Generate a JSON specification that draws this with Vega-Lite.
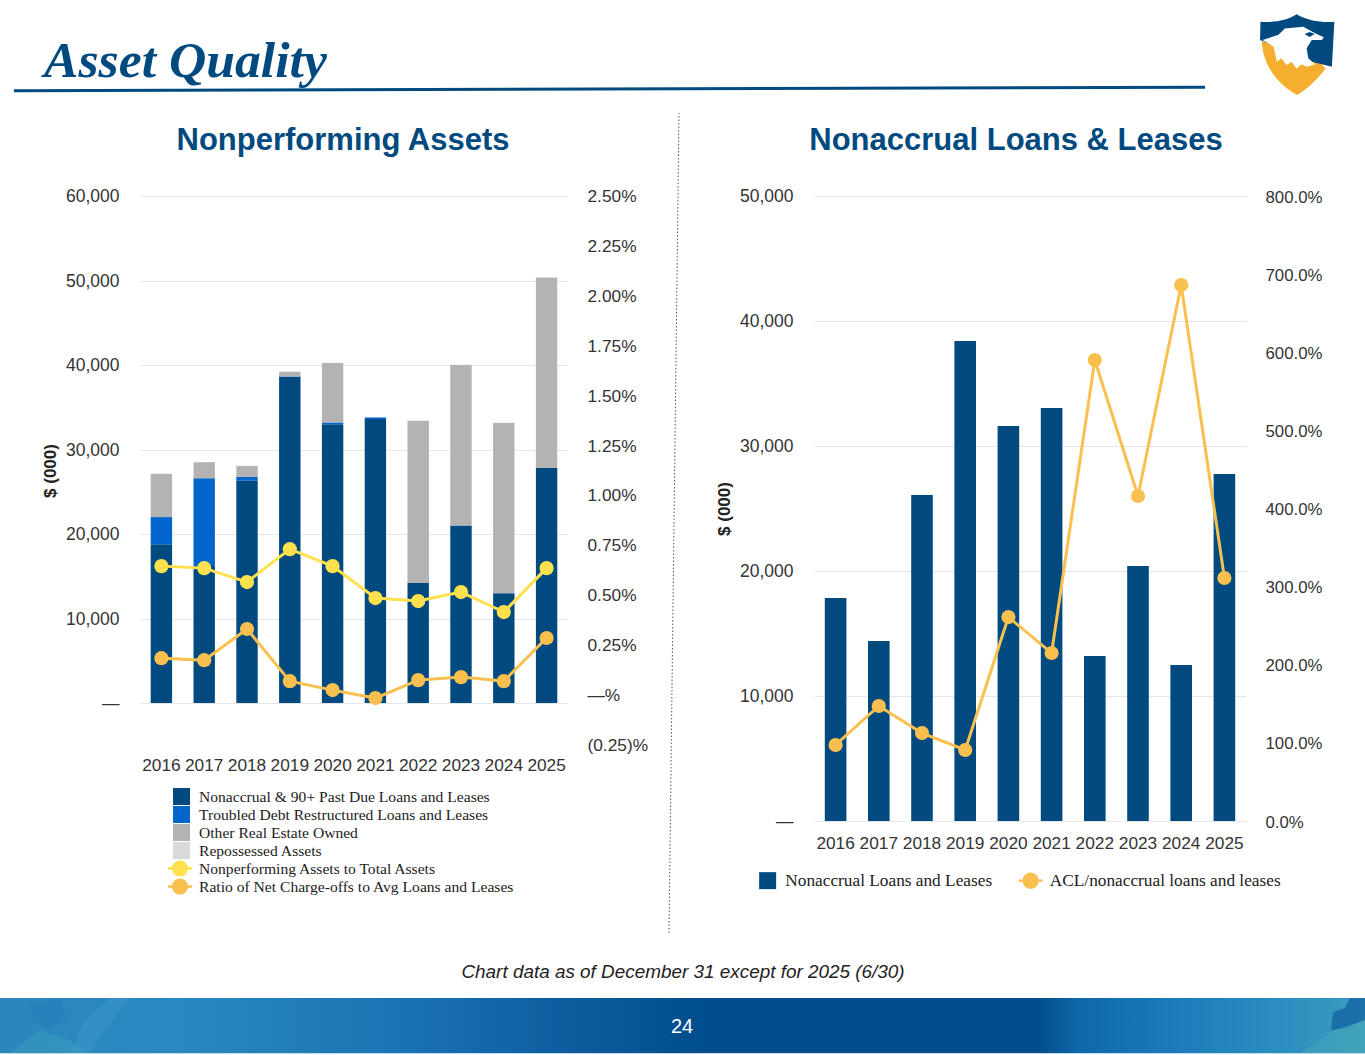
{"$schema":"https://vega.github.io/schema/vega-lite/v6.json","padding":0,"background":"white","bounds":"flush","spacing":0,"resolve":{"scale":{"color":"independent","fill":"independent","stroke":"independent"},"legend":{"color":"independent","fill":"independent"}},"config":{"view":{"stroke":null},"font":"Liberation Sans"},
"datasets":{
"bars1":[
{"year":"2016","category":"Nonaccrual & 90+ Past Due Loans and Leases","rank":1,"value":18800},{"year":"2016","category":"Troubled Debt Restructured Loans and Leases","rank":2,"value":3200},{"year":"2016","category":"Other Real Estate Owned","rank":3,"value":5100},{"year":"2016","category":"Repossessed Assets","rank":4,"value":50},
{"year":"2017","category":"Nonaccrual & 90+ Past Due Loans and Leases","rank":1,"value":16200},{"year":"2017","category":"Troubled Debt Restructured Loans and Leases","rank":2,"value":10400},{"year":"2017","category":"Other Real Estate Owned","rank":3,"value":1900},{"year":"2017","category":"Repossessed Assets","rank":4,"value":30},
{"year":"2018","category":"Nonaccrual & 90+ Past Due Loans and Leases","rank":1,"value":26300},{"year":"2018","category":"Troubled Debt Restructured Loans and Leases","rank":2,"value":450},{"year":"2018","category":"Other Real Estate Owned","rank":3,"value":1300},{"year":"2018","category":"Repossessed Assets","rank":4,"value":30},
{"year":"2019","category":"Nonaccrual & 90+ Past Due Loans and Leases","rank":1,"value":38600},{"year":"2019","category":"Troubled Debt Restructured Loans and Leases","rank":2,"value":50},{"year":"2019","category":"Other Real Estate Owned","rank":3,"value":550},{"year":"2019","category":"Repossessed Assets","rank":4,"value":20},
{"year":"2020","category":"Nonaccrual & 90+ Past Due Loans and Leases","rank":1,"value":33000},{"year":"2020","category":"Troubled Debt Restructured Loans and Leases","rank":2,"value":200},{"year":"2020","category":"Other Real Estate Owned","rank":3,"value":7050},{"year":"2020","category":"Repossessed Assets","rank":4,"value":20},
{"year":"2021","category":"Nonaccrual & 90+ Past Due Loans and Leases","rank":1,"value":33600},{"year":"2021","category":"Troubled Debt Restructured Loans and Leases","rank":2,"value":200},{"year":"2021","category":"Other Real Estate Owned","rank":3,"value":0},{"year":"2021","category":"Repossessed Assets","rank":4,"value":20},
{"year":"2022","category":"Nonaccrual & 90+ Past Due Loans and Leases","rank":1,"value":14200},{"year":"2022","category":"Troubled Debt Restructured Loans and Leases","rank":2,"value":0},{"year":"2022","category":"Other Real Estate Owned","rank":3,"value":19200},{"year":"2022","category":"Repossessed Assets","rank":4,"value":20},
{"year":"2023","category":"Nonaccrual & 90+ Past Due Loans and Leases","rank":1,"value":21000},{"year":"2023","category":"Troubled Debt Restructured Loans and Leases","rank":2,"value":0},{"year":"2023","category":"Other Real Estate Owned","rank":3,"value":19000},{"year":"2023","category":"Repossessed Assets","rank":4,"value":30},
{"year":"2024","category":"Nonaccrual & 90+ Past Due Loans and Leases","rank":1,"value":13000},{"year":"2024","category":"Troubled Debt Restructured Loans and Leases","rank":2,"value":0},{"year":"2024","category":"Other Real Estate Owned","rank":3,"value":20150},{"year":"2024","category":"Repossessed Assets","rank":4,"value":30},
{"year":"2025","category":"Nonaccrual & 90+ Past Due Loans and Leases","rank":1,"value":27800},{"year":"2025","category":"Troubled Debt Restructured Loans and Leases","rank":2,"value":0},{"year":"2025","category":"Other Real Estate Owned","rank":3,"value":22500},{"year":"2025","category":"Repossessed Assets","rank":4,"value":100}],
"lines1":[
{"year":"2016","series":"Nonperforming Assets to Total Assets","pct":0.646},{"year":"2017","series":"Nonperforming Assets to Total Assets","pct":0.636},{"year":"2018","series":"Nonperforming Assets to Total Assets","pct":0.566},{"year":"2019","series":"Nonperforming Assets to Total Assets","pct":0.731},{"year":"2020","series":"Nonperforming Assets to Total Assets","pct":0.646},{"year":"2021","series":"Nonperforming Assets to Total Assets","pct":0.486},{"year":"2022","series":"Nonperforming Assets to Total Assets","pct":0.471},{"year":"2023","series":"Nonperforming Assets to Total Assets","pct":0.516},{"year":"2024","series":"Nonperforming Assets to Total Assets","pct":0.416},{"year":"2025","series":"Nonperforming Assets to Total Assets","pct":0.636},
{"year":"2016","series":"Ratio of Net Charge-offs to Avg Loans and Leases","pct":0.185},{"year":"2017","series":"Ratio of Net Charge-offs to Avg Loans and Leases","pct":0.175},{"year":"2018","series":"Ratio of Net Charge-offs to Avg Loans and Leases","pct":0.331},{"year":"2019","series":"Ratio of Net Charge-offs to Avg Loans and Leases","pct":0.07},{"year":"2020","series":"Ratio of Net Charge-offs to Avg Loans and Leases","pct":0.025},{"year":"2021","series":"Ratio of Net Charge-offs to Avg Loans and Leases","pct":-0.015},{"year":"2022","series":"Ratio of Net Charge-offs to Avg Loans and Leases","pct":0.075},{"year":"2023","series":"Ratio of Net Charge-offs to Avg Loans and Leases","pct":0.09},{"year":"2024","series":"Ratio of Net Charge-offs to Avg Loans and Leases","pct":0.07},{"year":"2025","series":"Ratio of Net Charge-offs to Avg Loans and Leases","pct":0.286}],
"right":[
{"year":"2016","category":"Nonaccrual Loans and Leases","series":"ACL/nonaccrual loans and leases","value":17840,"pct":97.3},{"year":"2017","category":"Nonaccrual Loans and Leases","series":"ACL/nonaccrual loans and leases","value":14400,"pct":147.2},{"year":"2018","category":"Nonaccrual Loans and Leases","series":"ACL/nonaccrual loans and leases","value":26080,"pct":112.6},{"year":"2019","category":"Nonaccrual Loans and Leases","series":"ACL/nonaccrual loans and leases","value":38400,"pct":90.9},{"year":"2020","category":"Nonaccrual Loans and Leases","series":"ACL/nonaccrual loans and leases","value":31600,"pct":261},{"year":"2021","category":"Nonaccrual Loans and Leases","series":"ACL/nonaccrual loans and leases","value":33040,"pct":215},{"year":"2022","category":"Nonaccrual Loans and Leases","series":"ACL/nonaccrual loans and leases","value":13200,"pct":590},{"year":"2023","category":"Nonaccrual Loans and Leases","series":"ACL/nonaccrual loans and leases","value":20400,"pct":416},{"year":"2024","category":"Nonaccrual Loans and Leases","series":"ACL/nonaccrual loans and leases","value":12480,"pct":686},{"year":"2025","category":"Nonaccrual Loans and Leases","series":"ACL/nonaccrual loans and leases","value":27760,"pct":311}]
},
"vconcat":[
{"width":1365,"height":196,
"encoding":{"x":{"field":"x","type":"quantitative","scale":{"domain":[0,1365]},"axis":null},"y":{"field":"y","type":"quantitative","scale":{"domain":[196,0]},"axis":null}},
"layer":[
{"data":{"values":[{"x":14,"y":90.8},{"x":1205,"y":87.3}]},"mark":{"type":"line","color":"#004A80","strokeWidth":3}},
{"data":{"values":[{"x":44,"y":77,"t":"Asset Quality"}]},"mark":{"type":"text","align":"left","baseline":"alphabetic","font":"Liberation Serif","fontWeight":"bold","fontStyle":"italic","fontSize":51.7,"color":"#004A80"},"encoding":{"text":{"field":"t"}}},
{"data":{"values":[{"x":679,"y":113},{"x":669,"y":933}]},"mark":{"type":"line","color":"#555555","strokeWidth":1,"strokeDash":[1.5,2]}},
{"data":{"values":[{"x":1297,"y":55}]},"mark":{"type":"point","filled":true,"opacity":1,"size":7056,"color":"#F5AE2E","shape":"M-.84,-.32C-.82,.1 -.6,.62 0,.95C.25,.82 .55,.5 .68,.32L.2,-.2Z"}},
{"data":{"values":[{"x":1297,"y":55}]},"mark":{"type":"point","filled":true,"opacity":1,"size":7056,"color":"#004A80","shape":"M-.87,-.79C-.55,-.77 -.25,-.82 -.01,-.97C.25,-.82 .55,-.77 .89,-.79L.83,.28L.35,.16L-.88,-.36Z"}},
{"data":{"values":[{"x":1297,"y":55}]},"mark":{"type":"point","filled":true,"opacity":1,"size":7056,"color":"#FFFFFF","shape":"M-.82,-.36L-.44,-.48L-.29,-.63L.15,-.67L.43,-.52L.64,-.42L.59,-.36L.35,-.36L.23,-.16L.27,.08L.43,.22L.23,.28L.11,.22L-.01,.32L-.13,.16L-.25,.24L-.37,.08L-.48,.16L-.56,-.2Z"}},
{"data":{"values":[{"x":1297,"y":55}]},"mark":{"type":"point","filled":true,"opacity":1,"size":7056,"color":"#004A80","shape":"M.18,-.5L.3,-.55L.42,-.5L.3,-.43Z"}},
{"data":{"values":[{"x":683,"y":972,"t":"Chart data as of December 31 except for 2025 (6/30)"}]},"mark":{"type":"text","align":"center","baseline":"middle","font":"Liberation Sans","fontStyle":"italic","fontSize":18.9,"color":"#222222"},"encoding":{"text":{"field":"t"}}},
{"data":{"values":[{"x":0,"x2":1365,"y":998,"y2":1053}]},"mark":{"type":"rect","color":{"gradient":"linear","x1":0,"x2":1,"y1":0,"y2":0,"stops":[{"offset":0,"color":"#2C86BC"},{"offset":0.13,"color":"#2A88C0"},{"offset":0.3,"color":"#1A72B2"},{"offset":0.42,"color":"#0C5C9E"},{"offset":0.52,"color":"#004C8C"},{"offset":0.76,"color":"#004C8C"},{"offset":0.79,"color":"#0F68A8"},{"offset":0.85,"color":"#1A78B8"},{"offset":0.93,"color":"#2A8CC0"},{"offset":1,"color":"#3A9CBE"}]}},"encoding":{"x2":{"field":"x2"},"y2":{"field":"y2"}}},
{"data":{"values":[{"x":1348,"y":1020}]},"mark":{"type":"point","filled":true,"opacity":0.7,"size":1936,"color":"#0E5E9E","shape":"M-.77,.45L-.68,-.36L-.14,-.55L.09,-1L.77,-1L.77,0L-.14,.36Z"}},
{"data":{"values":[{"x":1340,"y":1040}]},"mark":{"type":"point","filled":true,"opacity":0.35,"size":2500,"color":"#4FB0B8","shape":"M-1.6,.52L-.8,0L-.2,-.4L1,-.8L1,.52Z"}},
{"data":{"values":[{"x":100,"y":1025}]},"mark":{"type":"point","filled":true,"opacity":0.25,"size":3136,"color":"#4FA6D2","shape":"M-1.07,1L-.54,-.18L.36,-.96L1.07,-.96L.18,.18L-.36,1Z"}},
{"data":{"values":[{"x":50,"y":1040}]},"mark":{"type":"point","filled":true,"opacity":0.3,"size":3600,"color":"#45ABC0","shape":"M-1.33,.43L-.33,-.33L.67,0L1.17,.43Z"}},
{"data":{"values":[{"x":45,"y":1012}]},"mark":{"type":"point","filled":true,"opacity":0.25,"size":1600,"color":"#1B6FAE","shape":"M-.75,-.35L.75,-.6L1.15,.4L0,.8L-.65,.4Z"}},
{"data":{"values":[{"x":0,"x2":1365,"y":1053,"y2":1054}]},"mark":{"type":"rect","color":"#C8DCE8"},"encoding":{"x2":{"field":"x2"},"y2":{"field":"y2"}}},
{"data":{"values":[{"x":682,"y":1027,"t":"24"}]},"mark":{"type":"text","align":"center","baseline":"middle","font":"Liberation Sans","fontSize":20,"color":"#FFFFFF"},"encoding":{"text":{"field":"t"}}}
]},
{"bounds":"flush","spacing":0,"resolve":{"scale":{"color":"independent","fill":"independent","stroke":"independent"},"legend":{"color":"independent","fill":"independent"}},"hconcat":[
{"width":140,"height":625,"data":{"values":[{"a":""}]},"mark":{"type":"text"},"encoding":{"text":{"field":"a"}}},
{"width":428,"height":549,
"title":{"text":"Nonperforming Assets","font":"Liberation Sans","fontWeight":"bold","fontSize":31,"color":"#004A80","anchor":"middle","dx":-11,"offset":31},
"layer":[
{"data":{"name":"bars1"},"mark":{"type":"bar"},"encoding":{
"x":{"field":"year","type":"nominal","title":null,"scale":{"paddingInner":0.5,"paddingOuter":0.25},"axis":{"domain":false,"ticks":false,"labelAngle":0,"labelFontSize":17.3,"labelPadding":11,"labelColor":"#333333","labelFont":"Liberation Sans"}},
"y":{"field":"value","type":"quantitative","stack":"zero","scale":{"domain":[-4970,60000],"nice":false,"zero":false},"axis":{"orient":"left","title":"$ (000)","titleFont":"Liberation Sans","titleFontWeight":"bold","titleFontSize":17,"titleColor":"#222222","titlePadding":6,"domain":false,"ticks":false,"grid":true,"gridColor":"#E6E6E6","values":[0,10000,20000,30000,40000,50000,60000],"labelExpr":"datum.value==0?'—':format(datum.value,',')","labelFontSize":17.5,"labelPadding":21,"labelOffset":0.5,"labelColor":"#333333","labelFont":"Liberation Sans"}},
"order":{"field":"rank","type":"quantitative"},
"color":{"field":"category","type":"nominal","scale":{"domain":["Nonaccrual & 90+ Past Due Loans and Leases","Troubled Debt Restructured Loans and Leases","Other Real Estate Owned","Repossessed Assets"],"range":["#004A80","#0066CC","#B3B3B3","#D9D9D9"]},"legend":{"orient":"none","legendX":33,"legendY":592,"title":null,"symbolType":"square","symbolSize":289,"symbolStrokeWidth":0,"rowPadding":0,"labelOffset":9,"labelFont":"Liberation Serif","labelFontSize":15.6,"labelColor":"#222222","labelLimit":500}}
}},
{"data":{"name":"lines1"},"encoding":{
"x":{"field":"year","type":"nominal"},
"y":{"field":"pct","type":"quantitative","scale":{"domain":[-0.25,2.5],"nice":false,"zero":false},"axis":{"orient":"right","title":null,"domain":false,"ticks":false,"grid":false,"values":[-0.25,0,0.25,0.5,0.75,1,1.25,1.5,1.75,2,2.25,2.5],"labelExpr":"datum.value==0?'—%':datum.value<0?'(0.25)%':format(datum.value,'.2f')+'%'","labelFontSize":17.3,"labelPadding":19,"labelOffset":0.5,"labelColor":"#333333","labelFont":"Liberation Sans"}}},
"layer":[
{"transform":[{"filter":"datum.series==='Nonperforming Assets to Total Assets'"}],"mark":{"type":"line","strokeWidth":3,"color":"#FFE14D"}},
{"transform":[{"filter":"datum.series==='Ratio of Net Charge-offs to Avg Loans and Leases'"}],"mark":{"type":"line","strokeWidth":3,"color":"#F9C04F"}},
{"mark":{"type":"point","filled":true,"opacity":1,"size":201},"encoding":{"fill":{"field":"series","type":"nominal","scale":{"domain":["Nonperforming Assets to Total Assets","Ratio of Net Charge-offs to Avg Loans and Leases"],"range":["#FFE14D","#F9C04F"]},"legend":{"orient":"none","legendX":31.5,"legendY":664,"title":null,"symbolType":"M-1.41,-.14H1.41V.14H-1.41ZM-.95,0A.95,.95 0 1 1 .95,0A.95,.95 0 1 1 -.95,0Z","symbolSize":289,"symbolStrokeWidth":0,"rowPadding":0,"labelOffset":10.5,"labelFont":"Liberation Serif","labelFontSize":15.6,"labelColor":"#222222","labelLimit":500}}}}
]}
],"resolve":{"scale":{"y":"independent"},"axis":{"y":"independent"}}},
{"width":246,"height":625,"data":{"values":[{"a":""}]},"mark":{"type":"text"},"encoding":{"text":{"field":"a"}}},
{"width":432,"height":625,
"title":{"text":"Nonaccrual Loans & Leases","font":"Liberation Sans","fontWeight":"bold","fontSize":31,"color":"#004A80","anchor":"middle","dx":-14,"offset":31},
"data":{"name":"right"},
"layer":[
{"mark":{"type":"bar"},"encoding":{
"x":{"field":"year","type":"nominal","title":null,"scale":{"paddingInner":0.5,"paddingOuter":0.25},"axis":{"domain":false,"ticks":false,"labelAngle":0,"labelFontSize":17.3,"labelPadding":13,"labelColor":"#333333","labelFont":"Liberation Sans"}},
"y":{"field":"value","type":"quantitative","scale":{"domain":[0,50000],"nice":false},"axis":{"orient":"left","title":"$ (000)","titleFont":"Liberation Sans","titleFontWeight":"bold","titleFontSize":17,"titleColor":"#222222","titlePadding":6,"domain":false,"ticks":false,"grid":true,"gridColor":"#E6E6E6","values":[0,10000,20000,30000,40000,50000],"labelExpr":"datum.value==0?'—':format(datum.value,',')","labelFontSize":17.5,"labelPadding":21,"labelOffset":0.5,"labelColor":"#333333","labelFont":"Liberation Sans"}},
"color":{"field":"category","type":"nominal","scale":{"range":["#004A80"]},"legend":{"orient":"none","legendX":-55,"legendY":676,"title":null,"symbolType":"square","symbolSize":289,"symbolStrokeWidth":0,"labelOffset":9,"labelFont":"Liberation Serif","labelFontSize":17.3,"labelColor":"#222222","labelLimit":500}}
}},
{"encoding":{
"x":{"field":"year","type":"nominal"},
"y":{"field":"pct","type":"quantitative","scale":{"domain":[0,800],"nice":false},"axis":{"orient":"right","title":null,"domain":false,"ticks":false,"grid":false,"values":[0,100,200,300,400,500,600,700,800],"labelExpr":"format(datum.value,'.1f')+'%'","labelFontSize":16.8,"labelPadding":19,"labelOffset":1,"labelColor":"#333333","labelFont":"Liberation Sans"}}},
"layer":[
{"mark":{"type":"line","strokeWidth":3,"color":"#F9C04F"}},
{"mark":{"type":"point","filled":true,"opacity":1,"size":201},"encoding":{"fill":{"field":"series","type":"nominal","scale":{"range":["#F9C04F"]},"legend":{"orient":"none","legendX":208,"legendY":676,"title":null,"symbolType":"M-1.41,-.14H1.41V.14H-1.41ZM-.95,0A.95,.95 0 1 1 .95,0A.95,.95 0 1 1 -.95,0Z","symbolSize":289,"symbolStrokeWidth":0,"labelOffset":10.5,"labelFont":"Liberation Serif","labelFontSize":17.3,"labelColor":"#222222","labelLimit":500}}}}
]}
],"resolve":{"scale":{"y":"independent"},"axis":{"y":"independent"}}}
]}
]}
